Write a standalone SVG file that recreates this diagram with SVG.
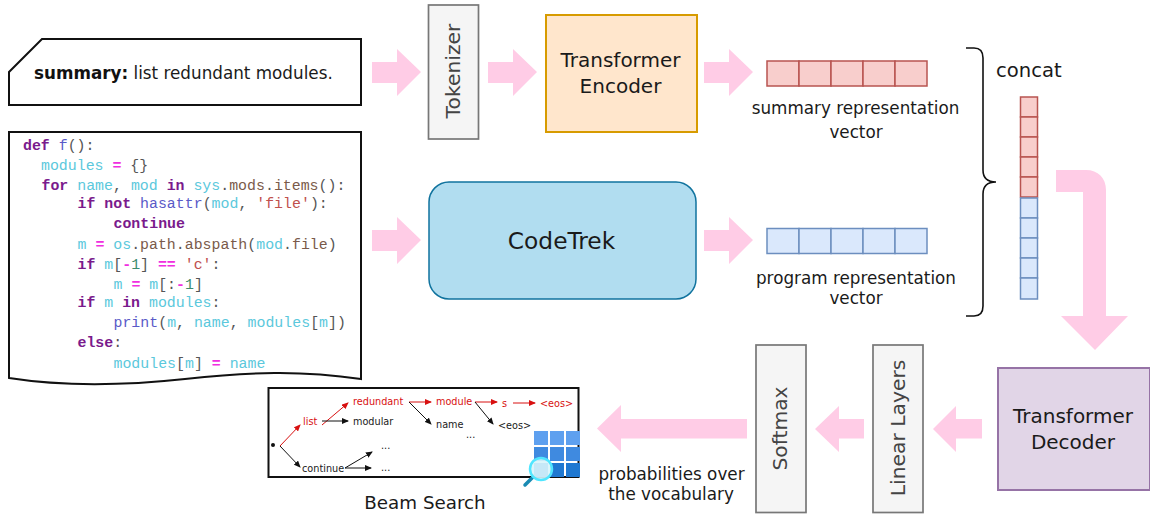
<svg xmlns="http://www.w3.org/2000/svg" width="1150" height="516" viewBox="0 0 1150 516">
<defs>
<style>
text{font-family:"DejaVu Sans",Verdana,sans-serif;fill:#1a1a1a}
.m{text-anchor:middle}
.s{font-size:16.8px}
.b{font-size:20px}
.doc{fill:#fff;stroke:#111;stroke-width:2}
.arrow{fill:#ffcce6}
.red{fill:#f8cecc;stroke:#b85450;stroke-width:1.5}
.blue{fill:#dae8fc;stroke:#6c8ebf;stroke-width:1.5}
.gray{fill:#f5f5f5;stroke:#777;stroke-width:1.7}
.rot{font-size:20.3px;fill:#444}
.code text{font-family:"Liberation Mono","Courier New",monospace;font-size:14.9px;white-space:pre;fill:#555}
.k{fill:#7a1a8c;font-weight:bold}
.v{fill:#5bc8dc}
.o{fill:#f02ee0;font-weight:bold}
.f{fill:#5a5ac8}
.a{fill:#7a5a4a}
.t{fill:#c0504d}
.n{fill:#3c8c6c}
.tree text{font-size:9.700px}
.tree .r{fill:#d81010}
.lr{stroke:#d81010;stroke-width:1;fill:none;marker-end:url(#mr)}
.lb{stroke:#111;stroke-width:1;fill:none;marker-end:url(#mb)}
</style>
<marker id="mr" markerWidth="7" markerHeight="6" refX="6" refY="3" orient="auto" markerUnits="userSpaceOnUse"><path d="M0 0L7 3L0 6z" fill="#d81010"/></marker>
<marker id="mb" markerWidth="7" markerHeight="6" refX="6" refY="3" orient="auto" markerUnits="userSpaceOnUse"><path d="M0 0L7 3L0 6z" fill="#111"/></marker>
</defs>
<rect width="1150" height="516" fill="#fff"/>

<g id="summary">
<path class="doc" d="M9 72L42 39H361V105H9z"/>
<text x="34" y="79" font-size="16.800"><tspan font-weight="bold" fill="#111">summary:</tspan> list redundant modules.</text>
</g>

<g id="code">
<path class="doc" d="M9 132H361V379C300 370 250 372 185 379C120 386 60 386 9 378z"/>
<g class="code">
<text x="23" y="150"><tspan class="k">def</tspan> <tspan class="f">f</tspan>():</text>
<text x="41" y="170"><tspan class="v">modules</tspan> <tspan class="o">=</tspan> {}</text>
<text x="41.500" y="190"><tspan class="k">for</tspan> <tspan class="v">name</tspan>, <tspan class="v">mod</tspan> <tspan class="k">in</tspan> <tspan class="v">sys</tspan>.<tspan class="a">mods</tspan>.<tspan class="a">items</tspan>():</text>
<text x="77.500" y="208"><tspan class="k">if not</tspan> <tspan class="f">hasattr</tspan>(<tspan class="v">mod</tspan>, <tspan class="t">'file'</tspan>):</text>
<text x="113.500" y="228"><tspan class="k">continue</tspan></text>
<text x="77.500" y="249"><tspan class="v">m</tspan> <tspan class="o">=</tspan> <tspan class="v">os</tspan>.<tspan class="a">path</tspan>.<tspan class="a">abspath</tspan>(<tspan class="v">mod</tspan>.<tspan class="a">file</tspan>)</text>
<text x="77.500" y="269"><tspan class="k">if</tspan> <tspan class="v">m</tspan>[<tspan class="o">-</tspan><tspan class="n">1</tspan>] <tspan class="o">==</tspan> <tspan class="t">'c'</tspan>:</text>
<text x="113.500" y="289"><tspan class="v">m</tspan> <tspan class="o">=</tspan> <tspan class="v">m</tspan>[:<tspan class="o">-</tspan><tspan class="n">1</tspan>]</text>
<text x="77.500" y="307"><tspan class="k">if</tspan> <tspan class="v">m</tspan> <tspan class="k">in</tspan> <tspan class="v">modules</tspan>:</text>
<text x="113.500" y="327"><tspan class="f">print</tspan>(<tspan class="v">m</tspan>, <tspan class="v">name</tspan>, <tspan class="v">modules</tspan>[<tspan class="v">m</tspan>])</text>
<text x="77.500" y="347"><tspan class="k">else</tspan>:</text>
<text x="113.500" y="368"><tspan class="v">modules</tspan>[<tspan class="v">m</tspan>] <tspan class="o">=</tspan> <tspan class="v">name</tspan></text>
</g>
</g>

<g id="connectors">
<path class="arrow" d="M372 62H397V49L421 72L397 96V83H372z"/>
<path class="arrow" d="M488 62H513V49L537 72L513 96V83H488z"/>
<path class="arrow" d="M704 62H729V49L753 72L729 96V83H704z"/>
<path class="arrow" d="M372 230H397V217L421 240L397 264V251H372z"/>
<path class="arrow" d="M704 230H729V217L753 240L729 264V251H704z"/>
<path class="arrow" d="M1056 170H1086C1098 170 1106 178 1106 190V316H1128L1095 350L1061 316H1083V192H1056z"/>
<path class="arrow" d="M982 419H956V406L933 429L956 452V438.500H982z"/>
<path class="arrow" d="M864 419H839V406L815 429L839 452V438.500H864z"/>
<path class="arrow" d="M747 419H621V405L597 428.500L621 452V438.500H747z"/>
<path fill="none" stroke="#111" stroke-width="1.600" d="M966 48H974C980 48 983 52 983 58V170C983 178 987 182 996 182C987 182 983 186 983 194V306C983 312 980 316 974 316H966"/>
</g>

<g id="tokenizer">
<rect class="gray" x="428.500" y="5" width="50" height="134"/>
<text class="m rot" transform="translate(460 71) rotate(-90)">Tokenizer</text>
</g>

<g id="encoder">
<rect x="546" y="15" width="151" height="117" fill="#ffe6cc" stroke="#d79b00" stroke-width="2"/>
<text class="m b" x="620.500" y="67">Transformer</text>
<text class="m b" x="620.500" y="93">Encoder</text>
</g>

<g id="codetrek">
<rect x="429" y="182" width="267" height="117" rx="20" fill="#b1ddf0" stroke="#10739e" stroke-width="1.500"/>
<text class="m" x="561.500" y="249" font-size="23.300">CodeTrek</text>
</g>

<g id="summary-vector">
<rect class="red" x="767" y="61" width="32" height="25"/>
<rect class="red" x="799" y="61" width="32" height="25"/>
<rect class="red" x="831" y="61" width="32" height="25"/>
<rect class="red" x="863" y="61" width="32" height="25"/>
<rect class="red" x="895" y="61" width="32" height="25"/>
<text class="m s" x="855.500" y="114">summary representation</text>
<text class="m s" x="856" y="138">vector</text>
</g>

<g id="program-vector">
<rect class="blue" x="767" y="228.500" width="32" height="25"/>
<rect class="blue" x="799" y="228.500" width="32" height="25"/>
<rect class="blue" x="831" y="228.500" width="32" height="25"/>
<rect class="blue" x="863" y="228.500" width="32" height="25"/>
<rect class="blue" x="895" y="228.500" width="32" height="25"/>
<text class="m s" x="856" y="284">program representation</text>
<text class="m s" x="856" y="304">vector</text>
</g>

<g id="concat">
<text x="996" y="77" font-size="19.600">concat</text>
<rect class="red" x="1020.500" y="97" width="17" height="20"/>
<rect class="red" x="1020.500" y="117" width="17" height="20"/>
<rect class="red" x="1020.500" y="137" width="17" height="20"/>
<rect class="red" x="1020.500" y="157" width="17" height="20"/>
<rect class="red" x="1020.500" y="177" width="17" height="20"/>
<rect class="blue" x="1020.500" y="198" width="17" height="20"/>
<rect class="blue" x="1020.500" y="218" width="17" height="20"/>
<rect class="blue" x="1020.500" y="238" width="17" height="20"/>
<rect class="blue" x="1020.500" y="258" width="17" height="20"/>
<rect class="blue" x="1020.500" y="278" width="17" height="21"/>
</g>

<g id="decoder">
<rect x="998" y="368" width="152" height="122" fill="#e1d5e7" stroke="#9673a6" stroke-width="2"/>
<text class="m b" x="1073" y="423">Transformer</text>
<text class="m b" x="1073" y="449">Decoder</text>
</g>

<g id="linear-layers">
<rect class="gray" x="873" y="345" width="50" height="167.500"/>
<text class="m rot" transform="translate(904.500 428) rotate(-90)">Linear Layers</text>
</g>

<g id="softmax">
<rect class="gray" x="756" y="345" width="50" height="167.500"/>
<text class="m rot" transform="translate(787 428.500) rotate(-90)">Softmax</text>
</g>

<g id="prob-label">
<text class="m s" x="671.500" y="480">probabilities over</text>
<text class="m s" x="671" y="500">the vocabulary</text>
</g>

<g id="beam-search">
<rect x="268.500" y="388" width="310" height="89" fill="#fff" stroke="#111" stroke-width="2"/>
<circle cx="273" cy="445" r="2" fill="#111"/>
<g class="tree">
<path class="lr" d="M280 446L300 425"/>
<path class="lb" d="M280 446L300 467"/>
<path class="lr" d="M322 425L348 403"/>
<path class="lb" d="M322 421H348"/>
<path class="lr" d="M409 402H431"/>
<path class="lb" d="M409 402L431 424"/>
<path class="lr" d="M475 402H497"/>
<path class="lb" d="M475 402L493 424"/>
<path class="lr" d="M513 403H535"/>
<path class="lb" d="M345 468L372 452"/>
<path class="lb" d="M345 468H371"/>
<text class="r" x="303" y="425">list</text>
<text class="r" x="353" y="405">redundant</text>
<text class="r" x="436" y="405">module</text>
<text class="r" x="502" y="407">s</text>
<text class="r" x="540" y="407">&lt;eos&gt;</text>
<text x="353" y="425">modular</text>
<text x="436" y="428">name</text>
<text x="498" y="429">&lt;eos&gt;</text>
<text x="466" y="438">...</text>
<text x="381" y="449">...</text>
<text x="381" y="471">...</text>
<text x="302" y="472">continue</text>
</g>
<g>
<rect x="534" y="431" width="14" height="14" fill="#5ea0ef"/>
<rect x="550" y="431" width="14" height="14" fill="#5ea0ef"/>
<rect x="566" y="431" width="14" height="14" fill="#5ea0ef"/>
<rect x="534" y="447" width="14" height="14" fill="#3f8ae0"/>
<rect x="550" y="447" width="14" height="14" fill="#3f8ae0"/>
<rect x="566" y="447" width="14" height="14" fill="#3f8ae0"/>
<rect x="534" y="463" width="14" height="14" fill="#1f78d1"/>
<rect x="550" y="463" width="14" height="14" fill="#1f78d1"/>
<rect x="566" y="463" width="14" height="14" fill="#1f78d1"/>
<path d="M534 476L525 485" stroke="#198ab3" stroke-width="3.500" stroke-linecap="round"/>
<circle cx="541" cy="469" r="11" fill="#d8f4fb" fill-opacity=".9" stroke="#50e6ff" stroke-width="2.500"/>
</g>
<text class="m" x="425" y="509" font-size="18.300">Beam Search</text>
</g>
</svg>
